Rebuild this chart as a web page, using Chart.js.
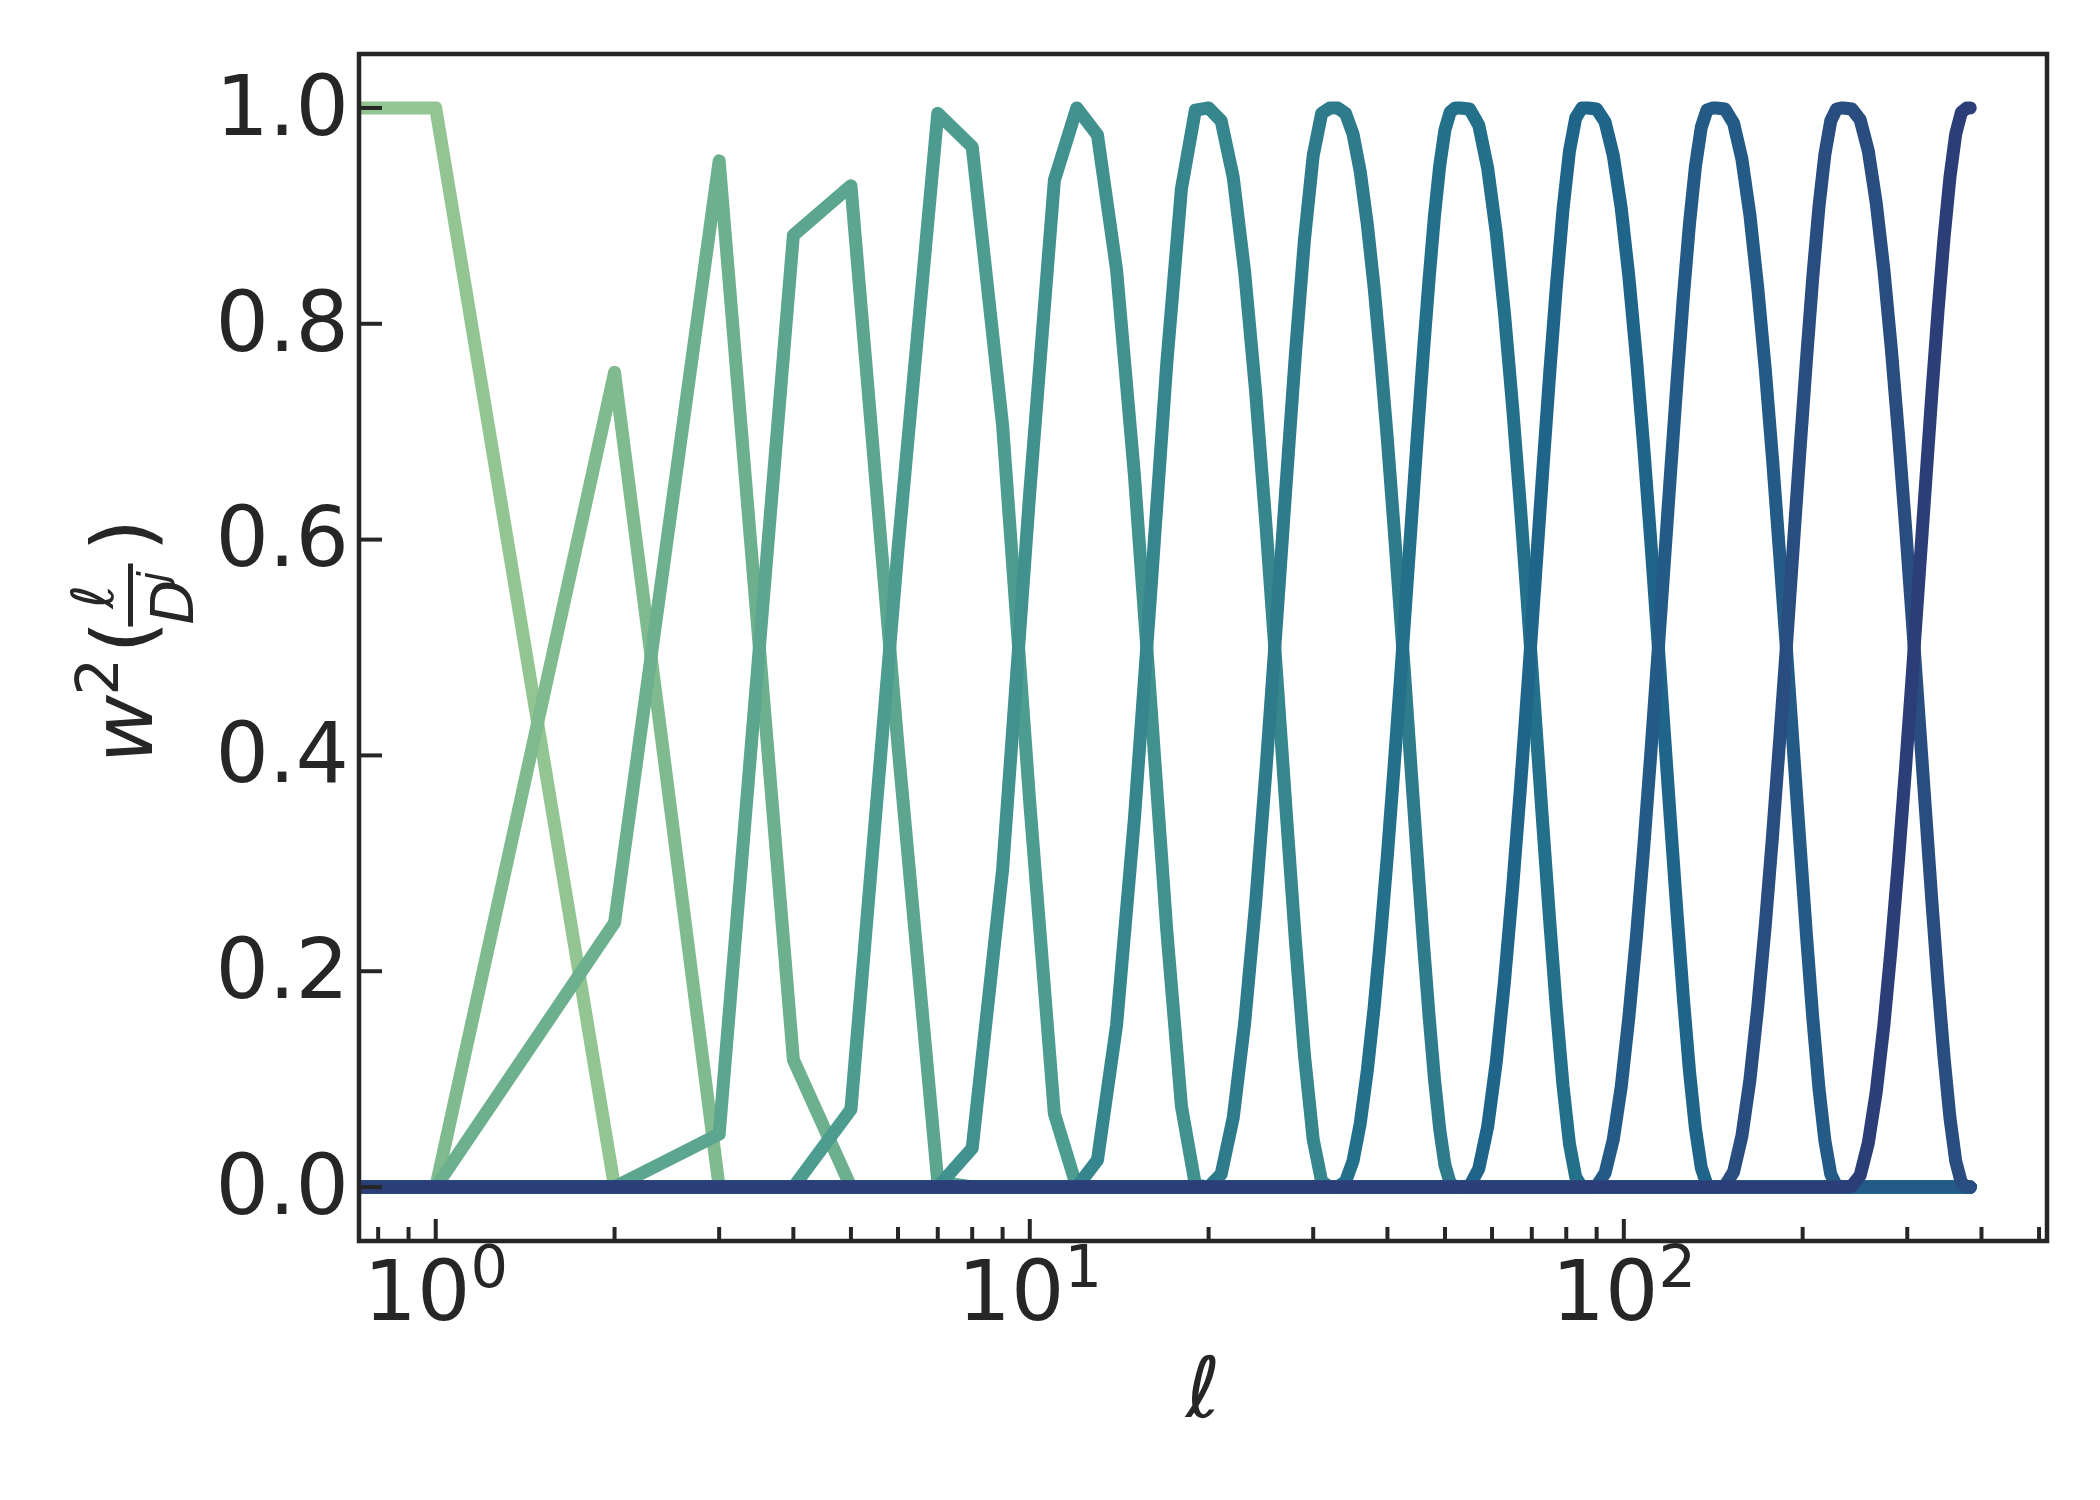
<!DOCTYPE html>
<html>
<head>
<meta charset="utf-8">
<script src="https://cdn.jsdelivr.net/npm/chart.js@4.4.1/dist/chart.umd.min.js"></script>
<style>
  html, body { margin: 0; padding: 0; background: #ffffff; }
  canvas { display: block; }
</style>
</head>
<body>
<canvas id="chartWindows" width="2100" height="1500" style="width:2100px;height:1500px"></canvas>
<script>
// Window functions w^2(l / D^j), one bump per scale j
const LMAX = 383;

const ell0 = [0, 1, 2, 383];
const w0   = [1, 1, 0, 0];

const ell1 = [0, 1, 2, 3, 383];
const w1   = [0, 0, 0.755, 0, 0];

const ell2 = [0, 1, 2, 3, 4, 5, 383];
const w2   = [0, 0, 0.245, 0.951, 0.118, 0, 0];

const ell3 = [0, 2, 3, 4, 5, 6, 7, 8, 383];
const w3   = [0, 0, 0.049, 0.882, 0.928, 0.409, 0.005, 0, 0];

const ell4 = [0, 4, 5, 6, 7, 8, 9, 10, 11, 12, 383];
const w4   = [0, 0, 0.072, 0.591, 0.995, 0.964, 0.706, 0.356, 0.068, 0, 0];

const ell5 = [0, 7, 8, 9, 10, 11, 12, 13, 14, 15, 16, 17, 18, 19, 20, 383];
const w5   = [0, 0, 0.036, 0.294, 0.644, 0.933, 1.000, 0.975, 0.850, 0.660, 0.445, 0.239, 0.075, 0.002, 0, 0];

const ell6 = [0, 11, 12, 13, 14, 15, 16, 17, 18, 19, 20, 21, 22, 23, 24, 25, 26, 27, 28, 29, 30, 31, 32, 33, 383];
const w6   = [0, 0, 0.000, 0.025, 0.150, 0.341, 0.555, 0.762, 0.925, 0.998, 1.000, 0.988, 0.936, 0.848, 0.737, 0.611,
              0.480, 0.350, 0.228, 0.122, 0.044, 0.005, 0.000, 0, 0];

const ell7 = [0, 19, 20, 21, 22, 23, 24, 25, 26, 27, 28, 29, 30, 31, 32, 33, 34, 35, 36, 37, 38, 39, 40,
              41, 42, 43, 44, 45, 46, 47, 48, 49, 50, 51, 52, 53, 383];
const w7   = [0, 0, 0.000, 0.012, 0.064, 0.152, 0.263, 0.389, 0.520, 0.650, 0.772, 0.878, 0.956, 0.995, 1.000,
              1.000, 0.995, 0.976, 0.941, 0.892, 0.833, 0.765, 0.692, 0.614, 0.535, 0.455, 0.375, 0.298, 0.225,
              0.159, 0.100, 0.053, 0.020, 0.004, 0.000, 0, 0];

const ell8 = [0, 32, 33, 34, 35, 36, 37, 38, 39, 40, 41, 42, 43, 44, 45, 46, 47, 48, 49, 50, 51, 52, 53,
              55, 57, 59, 61, 63, 65, 67, 69, 71, 73, 75, 77, 79, 81, 83, 85, 87, 383];
const w8   = [0, 0, 0.000, 0.005, 0.024, 0.059, 0.108, 0.167, 0.235, 0.308, 0.386, 0.465, 0.546, 0.625, 0.702,
              0.775, 0.841, 0.900, 0.947, 0.980, 0.996, 1.000, 1.000, 0.999, 0.984, 0.944, 0.884, 0.808, 0.722,
              0.629, 0.532, 0.434, 0.338, 0.248, 0.165, 0.094, 0.040, 0.009, 0.000, 0, 0];

const ell9 = [0, 52, 53, 55, 57, 59, 61, 63, 65, 67, 69, 71, 73, 75, 77, 79, 81, 83, 85, 87, 90, 93, 96, 99,
              102, 105, 108, 111, 114, 117, 120, 123, 126, 129, 132, 135, 138, 141, 143, 383];
const w9   = [0, 0, 0.000, 0.001, 0.017, 0.056, 0.116, 0.192, 0.278, 0.371, 0.468, 0.566, 0.662, 0.753, 0.835,
              0.906, 0.960, 0.991, 1.000, 1.000, 0.999, 0.987, 0.956, 0.907, 0.843, 0.768, 0.686, 0.599, 0.510,
              0.421, 0.334, 0.251, 0.174, 0.107, 0.054, 0.018, 0.002, 0.000, 0, 0];

const ell10 = [0, 86, 87, 90, 93, 96, 99, 102, 105, 108, 111, 114, 117, 120, 123, 126, 129, 132, 135, 138, 141,
               143, 148, 153, 158, 163, 168, 173, 178, 183, 188, 193, 198, 203, 208, 213, 218, 223, 228, 233, 383];
const w10   = [0, 0, 0.000, 0.001, 0.013, 0.044, 0.093, 0.158, 0.232, 0.314, 0.401, 0.490, 0.579, 0.666, 0.749,
               0.826, 0.893, 0.946, 0.982, 0.998, 1.000, 1.000, 0.999, 0.986, 0.953, 0.901, 0.834, 0.758, 0.674,
               0.585, 0.495, 0.405, 0.317, 0.233, 0.157, 0.092, 0.043, 0.012, 0.001, 0, 0];

const ell11 = [0, 142, 143, 148, 153, 158, 163, 168, 173, 178, 183, 188, 193, 198, 203, 208, 213, 218, 223, 228,
               233, 234, 242, 250, 258, 266, 274, 282, 290, 298, 306, 314, 322, 330, 338, 346, 354, 362, 370,
               378, 383];
const w11   = [0, 0, 0.000, 0.001, 0.014, 0.047, 0.099, 0.166, 0.242, 0.326, 0.415, 0.505, 0.596, 0.684, 0.767,
               0.843, 0.908, 0.957, 0.988, 0.999, 1.000, 1.000, 0.999, 0.989, 0.960, 0.912, 0.850, 0.777, 0.697,
               0.612, 0.524, 0.435, 0.349, 0.265, 0.188, 0.120, 0.064, 0.024, 0.004, 0.000, 0];

const ell12 = [0, 233, 234, 242, 250, 258, 266, 274, 282, 290, 298, 306, 314, 322, 330, 338, 346, 354, 362,
               370, 378, 383];
const w12   = [0, 0, 0.000, 0.001, 0.011, 0.041, 0.088, 0.150, 0.223, 0.303, 0.388, 0.476, 0.565, 0.651, 0.735,
               0.812, 0.880, 0.936, 0.976, 0.996, 1.000, 1.000];

const ellSets = [ell0, ell1, ell2, ell3, ell4, ell5, ell6, ell7, ell8, ell9, ell10, ell11, ell12];
const wSets   = [w0, w1, w2, w3, w4, w5, w6, w7, w8, w9, w10, w11, w12];

// crest-like palette, light green -> navy
const colors = ['#93c592', '#80bb8f', '#6db08e', '#5ca68f', '#4c9c8f', '#41918e', '#35868d',
                '#2e7b8c', '#23708b', '#1f6589', '#245a86', '#294d7f', '#2c3e77'];

const yTicks = [0, 0.2, 0.4, 0.6, 0.8, 1.0];
const xMajorTicks = [1, 10, 100];
const xMajorExp = ['0', '1', '2'];
const xMinorTicks = [0.8, 0.9, 2, 3, 4, 5, 6, 7, 8, 9, 20, 30, 40, 50, 60, 70, 80, 90, 200, 300, 400, 500];

const INK = '#262626';
const FONT = '"DejaVu Sans"';

// matplotlib-style 5% margins on a log axis
const X_MIN = Math.pow(LMAX, -0.05);
const X_MAX = Math.pow(LMAX, 1.05);

const datasets = ellSets.map((ells, j) => ({
  data: ells.map((l, i) => ({ x: l === 0 ? X_MIN : l, y: wSets[j][i] })),
  borderColor: colors[j],
  borderWidth: 13,
  borderJoinStyle: 'round',
  borderCapStyle: 'round',
  pointRadius: 0,
  tension: 0,
  fill: false,
  clip: 0,
  order: ellSets.length - 1 - j
}));

function line(ctx, x1, y1, x2, y2) {
  ctx.beginPath();
  ctx.moveTo(x1, y1);
  ctx.lineTo(x2, y2);
  ctx.stroke();
}

// frame, inward ticks, x tick labels and axis titles
const decor = {
  id: 'decor',
  afterDraw(chart) {
    const { ctx, chartArea: a, scales: { x, y } } = chart;
    ctx.save();
    ctx.strokeStyle = INK;
    ctx.fillStyle = INK;
    ctx.lineWidth = 4;
    ctx.lineCap = 'butt';

    yTicks.forEach(v => {
      const py = y.getPixelForValue(v);
      line(ctx, a.left, py, a.left + 23, py);
    });
    xMajorTicks.forEach(v => {
      const px = x.getPixelForValue(v);
      line(ctx, px, a.bottom, px, a.bottom - 22);
    });
    xMinorTicks.forEach(v => {
      const px = x.getPixelForValue(v);
      line(ctx, px, a.bottom, px, a.bottom - 14);
    });

    ctx.lineWidth = 4.5;
    ctx.strokeRect(a.left, a.top, a.right - a.left, a.bottom - a.top);

    // 10^k labels
    ctx.textAlign = 'left';
    ctx.textBaseline = 'alphabetic';
    xMajorTicks.forEach((v, i) => {
      const px = x.getPixelForValue(v);
      ctx.font = '84px ' + FONT;
      const wBase = ctx.measureText('10').width;
      ctx.font = '59px ' + FONT;
      const wSup = ctx.measureText(xMajorExp[i]).width;
      const x0 = px - (wBase + wSup) / 2;
      ctx.font = '84px ' + FONT;
      ctx.fillText('10', x0, a.bottom + 79);
      ctx.font = '59px ' + FONT;
      ctx.fillText(xMajorExp[i], x0 + wBase, a.bottom + 46);
    });

    // x title
    ctx.textAlign = 'center';
    ctx.font = 'italic 84px ' + FONT;
    ctx.fillText('ℓ', (a.left + a.right) / 2, a.bottom + 176);

    // y title: w^2(l / D^j), rotated
    ctx.save();
    ctx.translate(a.left - 207, (a.top + a.bottom) / 2 + 116);
    ctx.rotate(-Math.PI / 2);
    ctx.textAlign = 'left';
    ctx.font = 'italic 84px ' + FONT;
    ctx.fillText('w', 0, 0);
    ctx.font = '59px ' + FONT;
    ctx.fillText('2', 68, -34);
    ctx.font = '84px ' + FONT;
    ctx.fillText('(', 110, 0);
    ctx.fillRect(137, -24, 63, 5);
    ctx.font = 'italic 58px ' + FONT;
    ctx.textAlign = 'center';
    ctx.fillText('ℓ', 167, -39);
    ctx.textAlign = 'left';
    ctx.fillText('D', 139, 41);
    ctx.font = 'italic 41px ' + FONT;
    ctx.fillText('j', 181, 15);
    ctx.font = '84px ' + FONT;
    ctx.fillText(')', 212, 0);
    ctx.restore();

    ctx.restore();
  }
};

const ctxWin = document.getElementById('chartWindows').getContext('2d');
new Chart(ctxWin, {
  type: 'line',
  data: { datasets: datasets },
  options: {
    responsive: false,
    animation: false,
    layout: { padding: { top: 54, right: 53, left: 0, bottom: 0 } },
    plugins: {
      legend: { display: false },
      tooltip: { enabled: false }
    },
    scales: {
      x: {
        type: 'logarithmic',
        bounds: 'data',
        min: X_MIN,
        max: X_MAX,
        grid: { display: false, drawTicks: false },
        border: { display: false },
        ticks: { display: false },
        afterDataLimits: s => { s.min = X_MIN; s.max = X_MAX; },
        afterBuildTicks: s => {
          s.ticks = xMajorTicks.map(v => ({ value: v }));
          s.min = X_MIN;
          s.max = X_MAX;
        },
        afterFit: s => {
          s.height = 259;
          s.paddingLeft = 0; s.paddingRight = 0; s.paddingTop = 0; s.paddingBottom = 0;
        }
      },
      y: {
        min: -0.05,
        max: 1.05,
        afterBuildTicks: s => { s.ticks = yTicks.map(v => ({ value: v })); },
        grid: { display: false, drawTicks: false, tickLength: 0 },
        border: { display: false },
        ticks: {
          color: INK,
          padding: 10,
          labelOffset: 5,
          font: { family: 'DejaVu Sans', size: 84 },
          callback: v => v.toFixed(1)
        },
        afterFit: s => {
          s.width = 359;
          s.paddingLeft = 0; s.paddingRight = 0; s.paddingTop = 0; s.paddingBottom = 0;
        }
      }
    }
  },
  plugins: [decor]
});
</script>
</body>
</html>
